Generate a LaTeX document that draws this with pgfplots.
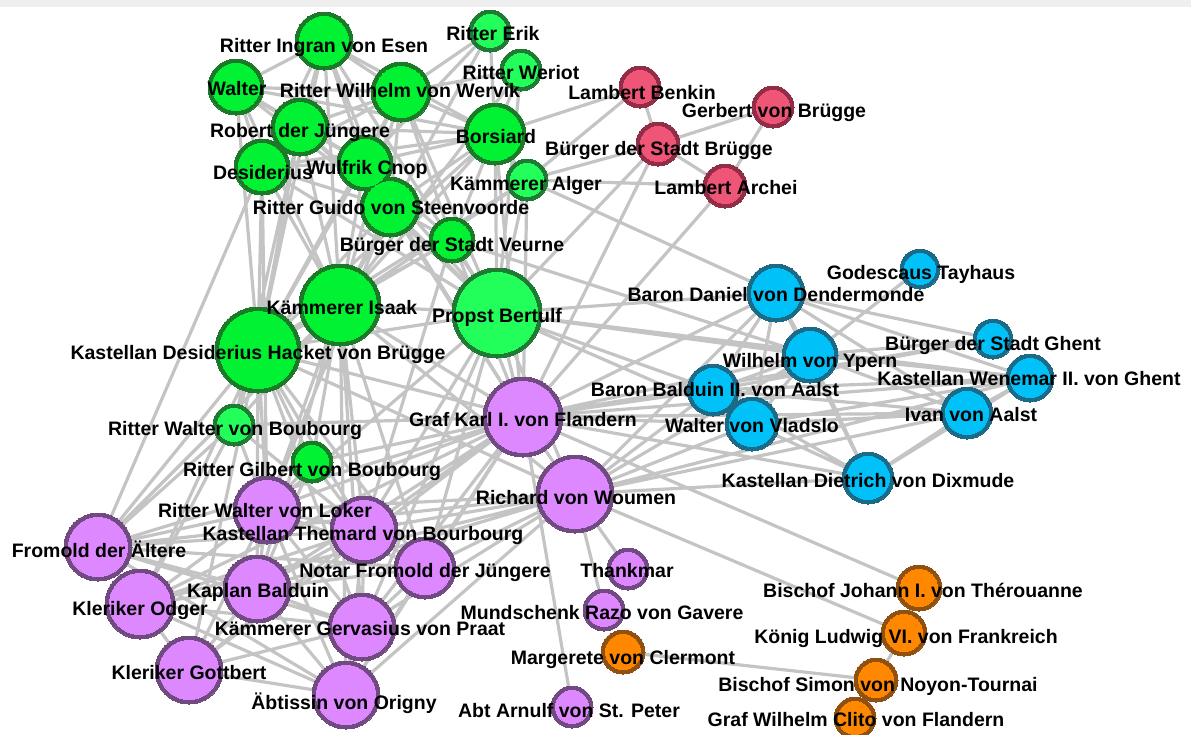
\documentclass[border=0pt]{standalone}
\usepackage{pgfplots}
\usepackage{pgfplotstable}
\pgfplotsset{compat=1.18}
\usepackage{fontspec}
\setmainfont{Liberation Sans}
\definecolor{edgec}{HTML}{C4C4C4}
\definecolor{gF}{HTML}{00F232}
\definecolor{gB}{HTML}{1B7A28}
\definecolor{lgF}{HTML}{22FF5A}
\definecolor{lgB}{HTML}{1F7A33}
\definecolor{rF}{HTML}{EE5577}
\definecolor{rB}{HTML}{922D47}
\definecolor{bF}{HTML}{00C2F8}
\definecolor{bB}{HTML}{1A6A88}
\definecolor{pF}{HTML}{DD88FF}
\definecolor{pB}{HTML}{704A80}
\definecolor{oF}{HTML}{FF8800}
\definecolor{oB}{HTML}{8F5010}
\definecolor{topband}{HTML}{EFEFEF}
\pgfplotstableread[row sep=\\]{
x y r \\
324 41 29 \\ 236 87 28 \\ 401 92 30 \\ 300 127 29 \\ 495 134 31 \\
262 167 28 \\ 365 163 28 \\ 390 207 30 \\ 452 240 23 \\ 340 305 41 \\
258 350 43 \\ 312 462 21 \\
}\greennodes
\pgfplotstableread[row sep=\\]{
x y r \\
490 31 21 \\ 521 70 21 \\ 527 180 21 \\ 497 313 45 \\ 234 425 21 \\
}\lightgreennodes
\pgfplotstableread[row sep=\\]{
x y r \\
640 87 21 \\ 773 107 21 \\ 658 144 22 \\ 725 186 22 \\
}\rednodes
\pgfplotstableread[row sep=\\]{
x y r \\
920 269 20 \\ 776 293 29 \\ 993 339 20 \\ 810 355 28 \\ 1030 378 24 \\
713 390 26 \\ 967 413 26 \\ 752 424 27 \\ 868 478 26 \\
}\bluenodes
\pgfplotstableread[row sep=\\]{
x y r \\
523 417 40 \\ 575 494 39 \\ 267 510 34 \\ 364 530 34 \\ 98 547 34 \\
425 568 31 \\ 257 589 34 \\ 140 604 35 \\ 362 627 34 \\ 189 670 34 \\
346 695 34 \\ 628 569 21 \\ 604 610 21 \\ 572 707 21 \\
}\purplenodes
\pgfplotstableread[row sep=\\]{
x y r \\
919 588 23 \\ 623 652 22 \\ 904 633 23 \\ 876 680 22 \\ 855 718 21 \\
}\orangenodes
\pgfplotsset{
  disc/.style n args={2}{scatter, only marks, mark=*,
    scatter/use mapped color={draw=#1, fill=#1},
    mark options={line width=0pt},
    visualization depends on={\thisrow{r}-#2 \as \rad},
    scatter/@pre marker code/.append style={/tikz/mark size=\rad}},
}
\newcommand\netgroup[3]{%
  \addplot[disc={#3}{0}] table {#1};
  \addplot[disc={#2}{4.5}] table {#1};
}
\tikzset{lab/.style={anchor=base, yshift=-7pt, inner sep=0pt, text=black,
  font=\fontsize{19.5}{22}\selectfont\bfseries}}
\begin{document}
\begin{tikzpicture}
\begin{axis}[name=ax, scale only axis, width=1191pt, height=734pt,
  xmin=0, xmax=1191, ymin=0, ymax=734, y dir=reverse, hide axis,
  clip=true, clip marker paths=true, unbounded coords=jump]
\fill[topband] (axis cs:0,0) rectangle (axis cs:1191,7);
% edges
\addplot[edgec, line width=3.2pt, line join=round, line cap=round, no markers] coordinates {
(324,41)(236,87)(324,41)(401,92)(324,41)(300,127)(324,41)(495,134)(324,41)(365,163)(324,41)(390,207)(324,41)(340,305)(324,41)(497,313)(324,41)(258,350)(324,41)(262,167)
(nan,nan)
(490,31)(495,134)(490,31)(401,92)(490,31)(365,163)(490,31)(340,305)
(nan,nan)
(521,70)(495,134)(521,70)(401,92)(521,70)(340,305)(521,70)(497,313)
(nan,nan)
(236,87)(401,92)(236,87)(300,127)(236,87)(262,167)(236,87)(365,163)(236,87)(340,305)(236,87)(258,350)(236,87)(495,134)(236,87)(390,207)
(nan,nan)
(401,92)(300,127)(401,92)(495,134)(401,92)(365,163)(401,92)(390,207)(401,92)(340,305)(401,92)(497,313)(401,92)(258,350)(401,92)(452,240)(401,92)(262,167)
(nan,nan)
(300,127)(262,167)(300,127)(365,163)(300,127)(390,207)(300,127)(340,305)(300,127)(258,350)(300,127)(495,134)(300,127)(497,313)(300,127)(234,425)
(nan,nan)
(495,134)(365,163)(495,134)(527,180)(495,134)(390,207)(495,134)(452,240)(495,134)(340,305)(495,134)(497,313)(495,134)(258,350)(495,134)(640,87)(495,134)(262,167)(495,134)(523,417)
(nan,nan)
(262,167)(365,163)(262,167)(390,207)(262,167)(340,305)(262,167)(258,350)(262,167)(98,547)(262,167)(497,313)(262,167)(267,510)
(nan,nan)
(365,163)(390,207)(365,163)(340,305)(365,163)(497,313)(365,163)(258,350)(365,163)(452,240)(365,163)(523,417)
(nan,nan)
(527,180)(497,313)(527,180)(658,144)(527,180)(340,305)(527,180)(776,293)(527,180)(725,186)(527,180)(523,417)(527,180)(258,350)
(nan,nan)
(390,207)(452,240)(390,207)(340,305)(390,207)(497,313)(390,207)(258,350)(390,207)(267,510)(390,207)(523,417)
(nan,nan)
(452,240)(340,305)(452,240)(497,313)(452,240)(258,350)(452,240)(523,417)(452,240)(810,355)(452,240)(364,530)
(nan,nan)
(340,305)(497,313)(340,305)(258,350)(340,305)(523,417)(340,305)(267,510)(340,305)(364,530)(340,305)(257,589)(340,305)(98,547)(340,305)(362,627)(340,305)(575,494)(340,305)(234,425)(340,305)(312,462)(340,305)(425,568)(340,305)(346,695)
(nan,nan)
(497,313)(258,350)(497,313)(523,417)(497,313)(575,494)(497,313)(776,293)(497,313)(713,390)(497,313)(364,530)(497,313)(425,568)(497,313)(362,627)(497,313)(810,355)(497,313)(1030,378)(497,313)(267,510)(497,313)(752,424)
(nan,nan)
(258,350)(234,425)(258,350)(312,462)(258,350)(267,510)(258,350)(364,530)(258,350)(98,547)(258,350)(257,589)(258,350)(140,604)(258,350)(523,417)(258,350)(362,627)(258,350)(425,568)(258,350)(189,670)(258,350)(575,494)
(nan,nan)
(234,425)(98,547)(234,425)(267,510)(234,425)(523,417)(234,425)(140,604)(234,425)(364,530)
(nan,nan)
(312,462)(523,417)(312,462)(267,510)(312,462)(364,530)(312,462)(257,589)
(nan,nan)
(640,87)(658,144)(640,87)(527,180)
(nan,nan)
(773,107)(658,144)(773,107)(725,186)
(nan,nan)
(658,144)(725,186)(658,144)(523,417)(658,144)(497,313)
(nan,nan)
(725,186)(523,417)
(nan,nan)
(920,269)(810,355)
(nan,nan)
(776,293)(810,355)(776,293)(713,390)(776,293)(752,424)(776,293)(1030,378)(776,293)(967,413)(776,293)(868,478)(776,293)(523,417)(776,293)(575,494)(776,293)(993,339)
(nan,nan)
(993,339)(810,355)(993,339)(523,417)(993,339)(713,390)
(nan,nan)
(810,355)(1030,378)(810,355)(967,413)(810,355)(713,390)(810,355)(752,424)(810,355)(868,478)(810,355)(523,417)(810,355)(575,494)
(nan,nan)
(1030,378)(713,390)(1030,378)(967,413)(1030,378)(752,424)(1030,378)(523,417)(1030,378)(575,494)(1030,378)(868,478)
(nan,nan)
(713,390)(967,413)(713,390)(752,424)(713,390)(523,417)(713,390)(575,494)(713,390)(868,478)
(nan,nan)
(967,413)(752,424)(967,413)(868,478)(967,413)(523,417)(967,413)(575,494)
(nan,nan)
(752,424)(868,478)(752,424)(523,417)(752,424)(575,494)
(nan,nan)
(868,478)(523,417)(868,478)(575,494)
(nan,nan)
(523,417)(575,494)(523,417)(267,510)(523,417)(364,530)(523,417)(425,568)(523,417)(257,589)(523,417)(362,627)(523,417)(98,547)(523,417)(140,604)(523,417)(189,670)(523,417)(346,695)(523,417)(572,707)(523,417)(919,588)
(nan,nan)
(575,494)(628,569)(575,494)(604,610)(575,494)(904,633)(575,494)(364,530)(575,494)(425,568)(575,494)(267,510)(575,494)(257,589)(575,494)(362,627)(575,494)(346,695)(575,494)(98,547)(575,494)(140,604)
(nan,nan)
(267,510)(364,530)(267,510)(98,547)(267,510)(425,568)(267,510)(257,589)(267,510)(140,604)(267,510)(362,627)(267,510)(189,670)(267,510)(346,695)
(nan,nan)
(364,530)(98,547)(364,530)(425,568)(364,530)(257,589)(364,530)(140,604)(364,530)(362,627)(364,530)(189,670)(364,530)(346,695)
(nan,nan)
(98,547)(425,568)(98,547)(257,589)(98,547)(140,604)(98,547)(362,627)(98,547)(189,670)(98,547)(346,695)
(nan,nan)
(425,568)(257,589)(425,568)(140,604)(425,568)(362,627)(425,568)(346,695)
(nan,nan)
(257,589)(140,604)(257,589)(362,627)(257,589)(189,670)(257,589)(346,695)
(nan,nan)
(140,604)(362,627)(140,604)(189,670)(140,604)(346,695)
(nan,nan)
(362,627)(189,670)(362,627)(346,695)
(nan,nan)
(189,670)(346,695)
(nan,nan)
(919,588)(904,633)
(nan,nan)
(623,652)(876,680)
(nan,nan)
(904,633)(876,680)
(nan,nan)
(876,680)(855,718)
};
% nodes (outer disc in border colour, inner disc in fill colour)
\netgroup{\greennodes}{gF}{gB}
\netgroup{\lightgreennodes}{lgF}{lgB}
\netgroup{\rednodes}{rF}{rB}
\netgroup{\bluenodes}{bF}{bB}
\netgroup{\purplenodes}{pF}{pB}
\netgroup{\orangenodes}{oF}{oB}
% labels
\node[lab] at (axis cs:324,45) {Ritter Ingran von Esen};
\node[lab] at (axis cs:493,33) {Ritter Erik};
\node[lab] at (axis cs:521,72) {Ritter Weriot};
\node[lab] at (axis cs:237,88) {Walter};
\node[lab] at (axis cs:400,90) {Ritter Wilhelm von Wervik};
\node[lab] at (axis cs:300,130) {Robert der Jüngere};
\node[lab] at (axis cs:496,136) {Borsiard};
\node[lab] at (axis cs:263,172) {Desiderius};
\node[lab] at (axis cs:367,167) {Wulfrik Cnop};
\node[lab] at (axis cs:526,183) {Kämmerer Alger};
\node[lab] at (axis cs:391,207) {Ritter Guido von Steenvoorde};
\node[lab] at (axis cs:452,244) {Bürger der Stadt Veurne};
\node[lab] at (axis cs:342,307) {Kämmerer Isaak};
\node[lab] at (axis cs:497,315) {Propst Bertulf};
\node[lab] at (axis cs:258,352) {Kastellan Desiderius Hacket von Brügge};
\node[lab] at (axis cs:235,428) {Ritter Walter von Boubourg};
\node[lab] at (axis cs:312,469) {Ritter Gilbert von Boubourg};
\node[lab] at (axis cs:642,92) {Lambert Benkin};
\node[lab] at (axis cs:774,110) {Gerbert von Brügge};
\node[lab] at (axis cs:659,148) {Bürger der Stadt Brügge};
\node[lab] at (axis cs:726,187) {Lambert Archei};
\node[lab] at (axis cs:921,272) {Godescaus Tayhaus};
\node[lab] at (axis cs:776,294) {Baron Daniel von Dendermonde};
\node[lab] at (axis cs:993,343) {Bürger der Stadt Ghent};
\node[lab] at (axis cs:810,360) {Wilhelm von Ypern};
\node[lab] at (axis cs:1029,378) {Kastellan Wenemar II. von Ghent};
\node[lab] at (axis cs:715,389) {Baron Balduin II. von Aalst};
\node[lab] at (axis cs:971,414) {Ivan von Aalst};
\node[lab] at (axis cs:752,425) {Walter von Vladslo};
\node[lab] at (axis cs:868,480) {Kastellan Dietrich von Dixmude};
\node[lab] at (axis cs:523,419) {Graf Karl I. von Flandern};
\node[lab] at (axis cs:576,497) {Richard von Woumen};
\node[lab] at (axis cs:265,510) {Ritter Walter von Loker};
\node[lab] at (axis cs:363,533) {Kastellan Themard von Bourbourg};
\node[lab] at (axis cs:99,550) {Fromold der Ältere};
\node[lab] at (axis cs:425,570) {Notar Fromold der Jüngere};
\node[lab] at (axis cs:258,590) {Kaplan Balduin};
\node[lab] at (axis cs:140,608) {Kleriker Odger};
\node[lab] at (axis cs:360,628) {Kämmerer Gervasius von Praat};
\node[lab] at (axis cs:189,672) {Kleriker Gottbert};
\node[lab] at (axis cs:344,702) {Äbtissin von Origny};
\node[lab] at (axis cs:627,570) {Thankmar};
\node[lab] at (axis cs:602,612) {Mundschenk Razo von Gavere};
\node[lab] at (axis cs:569,710) {Abt Arnulf von St. Peter};
\node[lab] at (axis cs:923,590) {Bischof Johann I. von Thérouanne};
\node[lab] at (axis cs:623,657) {Margerete von Clermont};
\node[lab] at (axis cs:906,636) {König Ludwig VI. von Frankreich};
\node[lab] at (axis cs:878,684) {Bischof Simon von Noyon-Tournai};
\node[lab] at (axis cs:856,719) {Graf Wilhelm Clito von Flandern};
\end{axis}
\pgfresetboundingbox
\useasboundingbox (ax.south west) rectangle (ax.north east);
\end{tikzpicture}
\end{document}
